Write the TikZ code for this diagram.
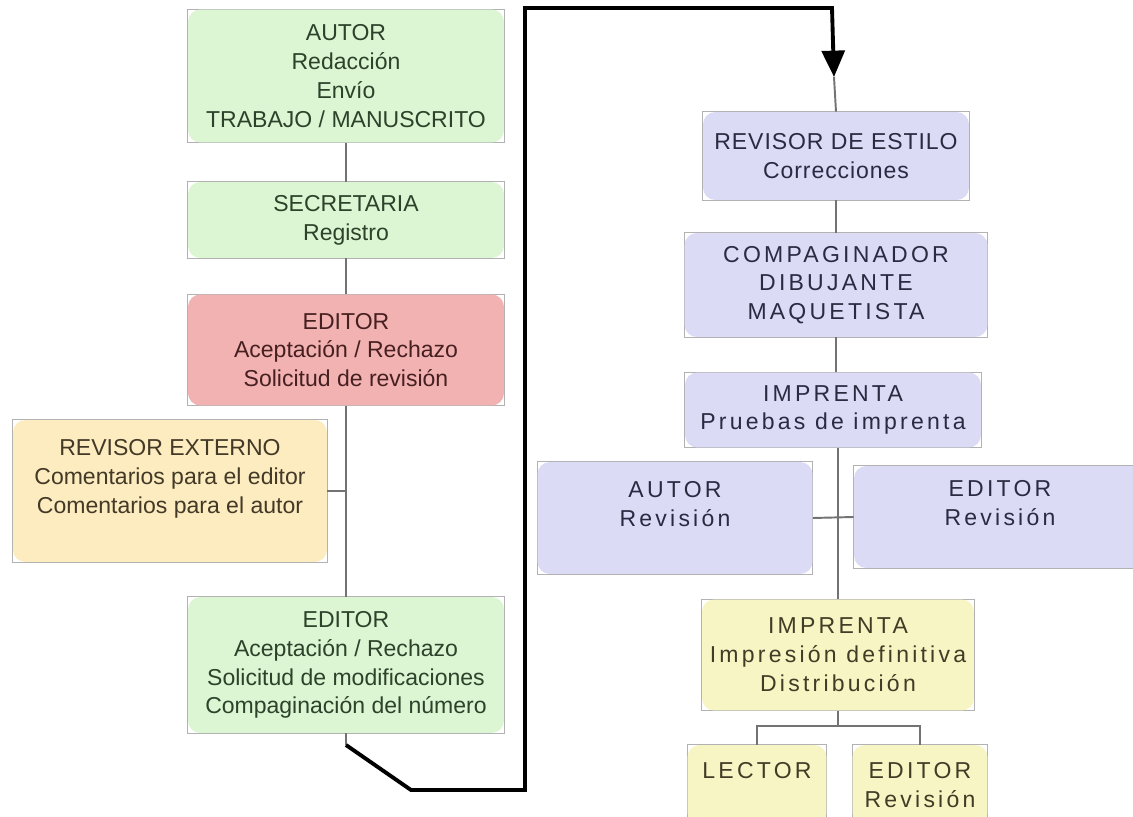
\documentclass[tikz,border=0pt]{standalone}
\usepackage{fontspec}
\setmainfont{Liberation Sans}
\newfontfamily\anchafont[LetterSpace=14]{Liberation Sans}
\newfontfamily\mediafont[LetterSpace=4]{Liberation Sans}
\usetikzlibrary{arrows.meta}

\definecolor{verdefondo}{RGB}{220,246,211}
\definecolor{verdetexto}{RGB}{45,66,42}
\definecolor{rojofondo}{RGB}{243,178,178}
\definecolor{rojotexto}{RGB}{70,32,32}
\definecolor{naranjafondo}{RGB}{253,236,192}
\definecolor{naranjatexto}{RGB}{66,57,38}
\definecolor{azulfondo}{RGB}{219,219,246}
\definecolor{azultexto}{RGB}{42,42,64}
\definecolor{amarillofondo}{RGB}{248,245,196}
\definecolor{amarillotexto}{RGB}{64,60,38}
\definecolor{lineagris}{RGB}{115,115,115}
\definecolor{marco}{RGB}{178,178,178}

\tikzstyle{caja} = [rectangle, rounded corners=7pt, align=center, inner sep=2pt,
  font=\fontsize{13.1}{16.4}\selectfont,
  append after command={\pgfextra{\draw[marco, line width=0.6pt, sharp corners]
    (\tikzlastnode.south west) rectangle (\tikzlastnode.north east);}}]
\tikzstyle{verde} = [caja, fill=verdefondo, text=verdetexto]
\tikzstyle{rojo} = [caja, fill=rojofondo, text=rojotexto]
\tikzstyle{naranja} = [caja, fill=naranjafondo, text=naranjatexto]
\tikzstyle{azul} = [caja, fill=azulfondo, text=azultexto, font=\anchafont\fontsize{13.1}{16.4}\selectfont]
\tikzstyle{amarillo} = [caja, fill=amarillofondo, text=amarillotexto, font=\anchafont\fontsize{13.1}{16.4}\selectfont]
\tikzstyle{linea} = [draw=lineagris, line width=1.1pt]
\tikzstyle{flujo} = [draw=black, line width=2.2pt, -{Triangle[width=13pt,length=15pt]}]

\begin{document}
\begin{tikzpicture}[x=0.02cm, y=-0.02cm]
    \clip (0,0) rectangle (1133,817);
    \fill [white] (0,0) rectangle (1133,817);
    % columna izquierda
    \node (autor) [verde, minimum width=6.32cm, minimum height=2.66cm] at (346,76) {AUTOR\\Redacción\\Envío\\TRABAJO / MANUSCRITO};
    \node (secre) [verde, minimum width=6.32cm, minimum height=1.52cm] at (346,220) {SECRETARIA\\Registro};
    \node (edrojo) [rojo, minimum width=6.32cm, minimum height=2.22cm] at (346,350) {EDITOR\\Aceptación / Rechazo\\Solicitud de revisión};
    \node (revext) [naranja, minimum width=6.28cm, minimum height=2.84cm] at (170,491) {REVISOR EXTERNO\\Comentarios para el editor\\Comentarios para el autor\\\mbox{}};
    \node (edverde) [verde, minimum width=6.32cm, minimum height=2.72cm] at (346,665) {EDITOR\\Aceptación / Rechazo\\Solicitud de modificaciones\\Compaginación del número};
    % columna derecha
    \node (revest) [azul, font=\mediafont\fontsize{13.1}{16.4}\selectfont, minimum width=5.32cm, minimum height=1.76cm] at (836,156) {REVISOR DE ESTILO\\Correcciones};
    \node (compag) [azul, minimum width=6.06cm, minimum height=2.08cm] at (836,285) {COMPAGINADOR\\DIBUJANTE\\MAQUETISTA};
    \node (imprueb) [azul, minimum width=5.92cm, minimum height=1.5cm] at (833,410) {IMPRENTA\\Pruebas de imprenta};
    \node (autrev) [azul, minimum width=5.5cm, minimum height=2.24cm] at (675,518) {AUTOR\\Revisión\\\mbox{}};
    \node (edrev) [azul, minimum width=5.84cm, minimum height=2.04cm] at (1000,517) {EDITOR\\Revisión\\\mbox{}};
    \node (imprdef) [amarillo, minimum width=5.44cm, minimum height=2.22cm] at (838,655) {IMPRENTA\\Impresión definitiva\\Distribución};
    \node (lector) [amarillo, minimum width=2.78cm, minimum height=1.6cm] at (757,785) {LECTOR\\\mbox{}};
    \node (edfin) [amarillo, minimum width=2.7cm, minimum height=1.6cm] at (920,785) {EDITOR\\Revisión};
    % conexiones
    \draw [linea] (autor.south) -- (secre.north);
    \draw [linea] (secre.south) -- (edrojo.north);
    \draw [linea] (edrojo.south) -- (edverde.north);
    \draw [linea] (revext.east) -- (revext.east -| edrojo.south);
    \coordinate (salida) at (346,745);
    \coordinate (entrada) at (834,77);
    \draw [linea] (edverde.south) -- (salida);
    \draw [flujo] (salida) -- (411,790) -- (525,790) -- (525,8) -- (832,8) -- (entrada);
    \draw [linea] (entrada) -- (revest.north);
    \draw [linea] (revest.south) -- (compag.north);
    \draw [linea] (compag.south) -- (compag.south |- imprueb.north);
    \draw [linea] (imprueb.south -| imprdef.north) -- (imprdef.north);
    \draw [linea] (autrev.east) -- (edrev.west);
    \draw [linea] (imprdef.south) -- ++(0,15) coordinate (rama) -| (lector.north);
    \draw [linea] (rama) -| (edfin.north);
\end{tikzpicture}
\end{document}
